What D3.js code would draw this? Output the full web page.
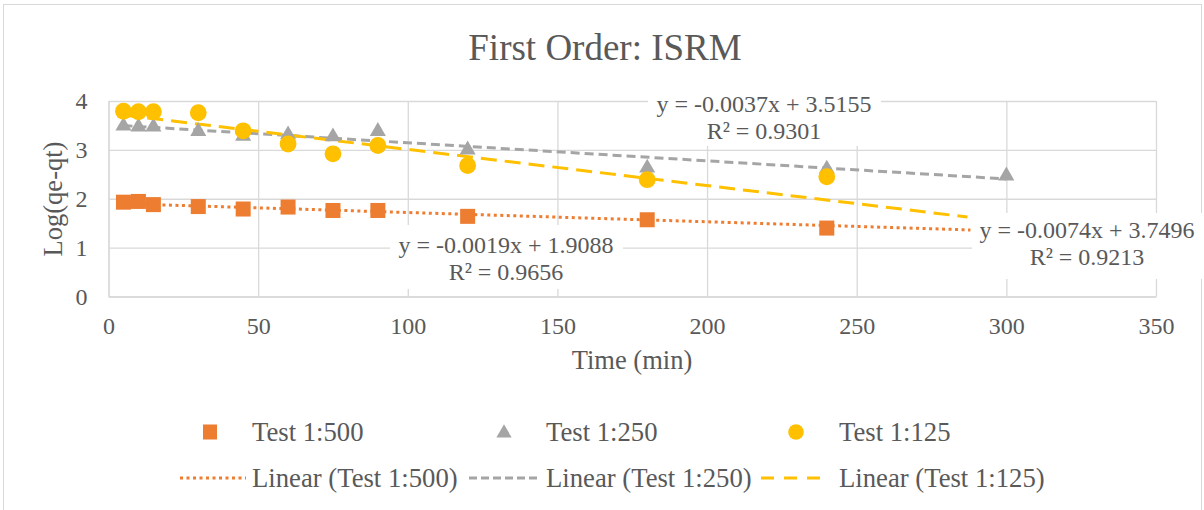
<!DOCTYPE html>
<html>
<head>
<meta charset="utf-8">
<script src="https://cdn.jsdelivr.net/npm/d3@7/dist/d3.min.js"></script>
<style>
  html, body { margin: 0; padding: 0; background: #ffffff; }
  svg { display: block; }
  text { font-family: "Liberation Serif", "Times New Roman", serif; fill: #595959; }
</style>
</head>
<body>
<svg id="chart" width="1204" height="510"></svg>
<script>
// ---------- data ----------
const titleText = "First Order: ISRM";
const xAxisTitle = "Time (min)";
const yAxisTitle = "Log(qe-qt)";
const xTicks = [0, 50, 100, 150, 200, 250, 300, 350];
const yTicks = [0, 1, 2, 3, 4];

const seriesNames = ["Test 1:500", "Test 1:250", "Test 1:125"];
const xTest500 = [5, 10, 15, 30, 45, 60, 75, 90, 120, 180, 240];
const yTest500 = [1.93, 1.945, 1.88, 1.84, 1.79, 1.83, 1.76, 1.76, 1.64, 1.57, 1.40];
const xTest250 = [5, 10, 15, 30, 45, 60, 75, 90, 120, 180, 240, 300];
const yTest250 = [3.49, 3.47, 3.47, 3.38, 3.28, 3.31, 3.27, 3.38, 3.00, 2.63, 2.61, 2.47];
const xTest125 = [5, 10, 15, 30, 45, 60, 75, 90, 120, 180, 240];
const yTest125 = [3.79, 3.78, 3.78, 3.76, 3.39, 3.12, 2.92, 3.09, 2.68, 2.39, 2.45];

// trendlines: slope, intercept, x-range
const trendSlopes = [-0.0019, -0.0037, -0.0074];
const trendIntercepts = [1.9088, 3.5155, 3.7496];
const trendRanges = [[5, 288], [5, 300], [5, 287]];
const trendEquations = ["y = -0.0019x + 1.9088", "y = -0.0037x + 3.5155", "y = -0.0074x + 3.7496"];
const trendR2 = ["R² = 0.9656", "R² = 0.9301", "R² = 0.9213"];

// ---------- styles ----------
const colors = ["#ED7D31", "#A5A5A5", "#FFC000"];
const dashes = ["3,3.5", "9,5", "16,8"];
const legendDashes = ["3,3.5", "8,4", "13,10"];
const gridColor = "#d9d9d9";
const serif = "'Liberation Serif', 'Times New Roman', serif";

const svg = d3.select("#chart");
const plot = { left: 108.5, right: 1156, top: 101, bottom: 296.5 };

const x = d3.scaleLinear().domain([0, 350]).range([plot.left, plot.right]);
const y = d3.scaleLinear().domain([0, 4]).range([plot.bottom, plot.top]);

// chart border
svg.append("rect").attr("x", 3.5).attr("y", 4.5).attr("width", 1198).attr("height", 520)
  .attr("fill", "#fff").attr("stroke", gridColor).attr("stroke-width", 1);

// title
svg.append("text").attr("x", 605).attr("y", 60).attr("text-anchor", "middle")
  .style("font-size", "37px").text(titleText);

// axes with gridlines
const yAxis = svg.append("g").attr("transform", `translate(${plot.left},0)`)
  .call(d3.axisLeft(y).tickValues(yTicks).tickFormat(d3.format("d"))
    .tickSize(-(plot.right - plot.left)).tickSizeOuter(0).tickPadding(21));
const xAxis = svg.append("g").attr("transform", `translate(0,${plot.bottom})`)
  .call(d3.axisBottom(x).tickValues(xTicks).tickFormat(d3.format("d"))
    .tickSize(-(plot.bottom - plot.top)).tickSizeOuter(0).tickPadding(20));
[xAxis, yAxis].forEach(g => {
  g.attr("font-family", serif).attr("font-size", 24);
  g.selectAll("line").attr("stroke", gridColor).attr("stroke-width", 1.3);
  g.select(".domain").attr("stroke", gridColor).attr("stroke-width", 1.3);
  g.selectAll("text").style("font-size", "24px").style("font-family", serif).attr("fill", "#595959");
});

// axis titles
svg.append("text").attr("x", 632).attr("y", 368.5).attr("text-anchor", "middle")
  .style("font-size", "26.5px").text(xAxisTitle);
svg.append("text").attr("transform", "translate(62,199) rotate(-90)").attr("text-anchor", "middle")
  .style("font-size", "26.5px").text(yAxisTitle);

// trendlines
const line = d3.line().x(d => x(d[0])).y(d => y(d[1]));
trendSlopes.forEach((m, i) => {
  const pts = trendRanges[i].map(v => [v, m * v + trendIntercepts[i]]);
  svg.append("path").attr("d", line(pts)).attr("fill", "none")
    .attr("stroke", colors[i]).attr("stroke-width", 3).attr("stroke-dasharray", dashes[i]);
});

// markers
const sq = 15;
svg.append("g").selectAll("rect").data(d3.zip(xTest500, yTest500)).join("rect")
  .attr("x", d => x(d[0]) - sq / 2).attr("y", d => y(d[1]) - sq / 2)
  .attr("width", sq).attr("height", sq).attr("fill", colors[0]);
const tri = d3.symbol().type(d3.symbolTriangle).size(112);
svg.append("g").selectAll("path").data(d3.zip(xTest250, yTest250)).join("path")
  .attr("d", tri).attr("transform", d => `translate(${x(d[0])},${y(d[1])})`).attr("fill", colors[1]);
svg.append("g").selectAll("circle").data(d3.zip(xTest125, yTest125)).join("circle")
  .attr("cx", d => x(d[0])).attr("cy", d => y(d[1])).attr("r", 8.4).attr("fill", colors[2]);

// trendline labels
const labelPos = [
  { cx: 506, b1: 253, box: [390, 225, 233, 64] },
  { cx: 764, b1: 112, box: [648, 88, 233, 58] },
  { cx: 1087, b1: 238, box: [972, 213, 232, 66] }
];
labelPos.forEach((p, i) => {
  svg.append("rect").attr("x", p.box[0]).attr("y", p.box[1]).attr("width", p.box[2]).attr("height", p.box[3]).attr("fill", "#fff");
  svg.append("text").attr("x", p.cx).attr("y", p.b1).attr("text-anchor", "middle").style("font-size", "24px").text(trendEquations[i]);
  svg.append("text").attr("x", p.cx).attr("y", p.b1 + 26.5).attr("text-anchor", "middle").style("font-size", "24px").text(trendR2[i]);
});

// legend
const legMarkX = [210, 504, 796];
const legTextX = [252, 546, 839];
const legLine = [[180, 246], [469, 538], [761, 829]];
const leg = svg.append("g");
leg.append("rect").attr("x", legMarkX[0] - 7).attr("y", 432 - 7.5).attr("width", 14).attr("height", 15).attr("fill", colors[0]);
leg.append("path").attr("d", d3.symbol().type(d3.symbolTriangle).size(100)).attr("transform", `translate(${legMarkX[1]},433)`).attr("fill", colors[1]);
leg.append("circle").attr("cx", legMarkX[2]).attr("cy", 432).attr("r", 7.8).attr("fill", colors[2]);
seriesNames.forEach((n, i) => {
  leg.append("text").attr("x", legTextX[i]).attr("y", 440.5).style("font-size", "26.7px").text(n);
  leg.append("line").attr("x1", legLine[i][0]).attr("x2", legLine[i][1]).attr("y1", 478).attr("y2", 478)
    .attr("stroke", colors[i]).attr("stroke-width", 3).attr("stroke-dasharray", legendDashes[i]);
  leg.append("text").attr("x", legTextX[i]).attr("y", 486.5).style("font-size", "26.7px").text(`Linear (${n})`);
});
</script>
</body>
</html>
